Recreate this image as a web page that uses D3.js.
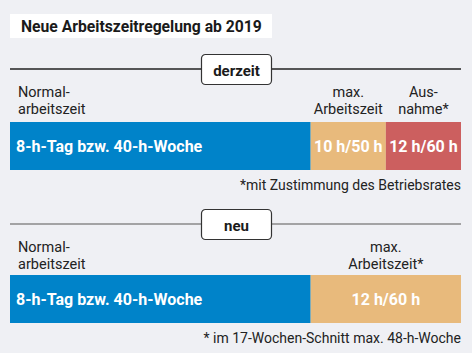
<!DOCTYPE html>
<html>
<head>
<script src="https://d3js.org/d3.v7.min.js"></script>
<style>
  body { margin: 0; background: #eff0f4; }
  text { font-family: Roboto, "Liberation Sans", sans-serif; }
</style>
</head>
<body>
<div id="chart"></div>
<script>
// hours per day, segments of each regime
const currentSegments = [
  { from: 0, to: 8, label: "8-h-Tag bzw. 40-h-Woche", color: "#0083c9", align: "start" },
  { from: 8, to: 10, label: "10 h/50 h", color: "#e8ba7c", align: "middle" },
  { from: 10, to: 12, label: "12 h/60 h", color: "#cc5f5f", align: "middle" }
];
const newSegments = [
  { from: 0, to: 8, label: "8-h-Tag bzw. 40-h-Woche", color: "#0083c9", align: "start" },
  { from: 8, to: 12, label: "12 h/60 h", color: "#e8ba7c", align: "middle" }
];
const currentHeads = [
  { at: 0, lines: ["Normal-", "arbeitszeit"], align: "start" },
  { at: 9, lines: ["max.", "Arbeitszeit"], align: "middle" },
  { at: 11, lines: ["Aus-", "nahme*"], align: "middle" }
];
const newHeads = [
  { at: 0, lines: ["Normal-", "arbeitszeit"], align: "start" },
  { at: 10, lines: ["max.", "Arbeitszeit*"], align: "middle" }
];

const width = 472, height = 353;
const svg = d3.select("#chart").append("svg")
  .attr("width", width).attr("height", height);

const x = d3.scaleLinear().domain([0, 12]).range([10, 461]);

// title
svg.append("rect").attr("x", 10).attr("y", 14).attr("width", 262).attr("height", 24).attr("fill", "#fff");
svg.append("text").attr("x", 21).attr("y", 31.5)
  .attr("font-size", 15.7).attr("font-weight", "bold").attr("fill", "#1a1a1a")
  .text("Neue Arbeitszeitregelung ab 2019");

function section(top, name, lineColor, heads, segs, barY, note) {
  const g = svg.append("g").attr("transform", `translate(0,${top})`);
  g.append("line").attr("x1", 10).attr("x2", 461).attr("y1", 15).attr("y2", 15)
    .attr("stroke", lineColor).attr("stroke-width", 1.3);
  g.append("rect").attr("x", 201.5).attr("y", 0.5).attr("width", 70).attr("height", 30).attr("rx", 4)
    .attr("fill", "#fff").attr("stroke", "#333").attr("stroke-width", 1.2);
  g.append("text").attr("x", 236.5).attr("y", 21.5).attr("text-anchor", "middle")
    .attr("font-size", 15).attr("font-weight", "bold").attr("fill", "#1a1a1a").text(name);

  heads.forEach(h => {
    const t = g.append("text").attr("text-anchor", h.align).attr("font-size", 14.5).attr("fill", "#222");
    h.lines.forEach((l, i) => {
      t.append("tspan").attr("x", h.align === "start" ? x(h.at) + 8 : x(h.at)).attr("y", 43 + i * 16.5).text(l);
    });
  });

  const bar = g.append("g").attr("transform", `translate(0,${barY})`);
  bar.selectAll("rect").data(segs).join("rect")
    .attr("x", d => x(d.from)).attr("width", d => x(d.to) - x(d.from))
    .attr("y", 0).attr("height", 48).attr("fill", d => d.color);
  bar.selectAll("text").data(segs).join("text")
    .attr("x", d => d.align === "start" ? x(d.from) + 6 : (x(d.from) + x(d.to)) / 2)
    .attr("y", 30).attr("text-anchor", d => d.align)
    .attr("font-size", 16).attr("font-weight", "bold").attr("fill", "#fff")
    .text(d => d.label);

  g.append("text").attr("x", 461).attr("y", barY + 48 + 19.5).attr("text-anchor", "end")
    .attr("font-size", 14).attr("fill", "#222").text(note);
}

section(54, "derzeit", "#222", currentHeads, currentSegments, 68, "*mit Zustimmung des Betriebsrates");
section(209, "neu", "#8a8a8a", newHeads, newSegments, 66, "* im 17-Wochen-Schnitt max. 48-h-Woche");
</script>
</body>
</html>
